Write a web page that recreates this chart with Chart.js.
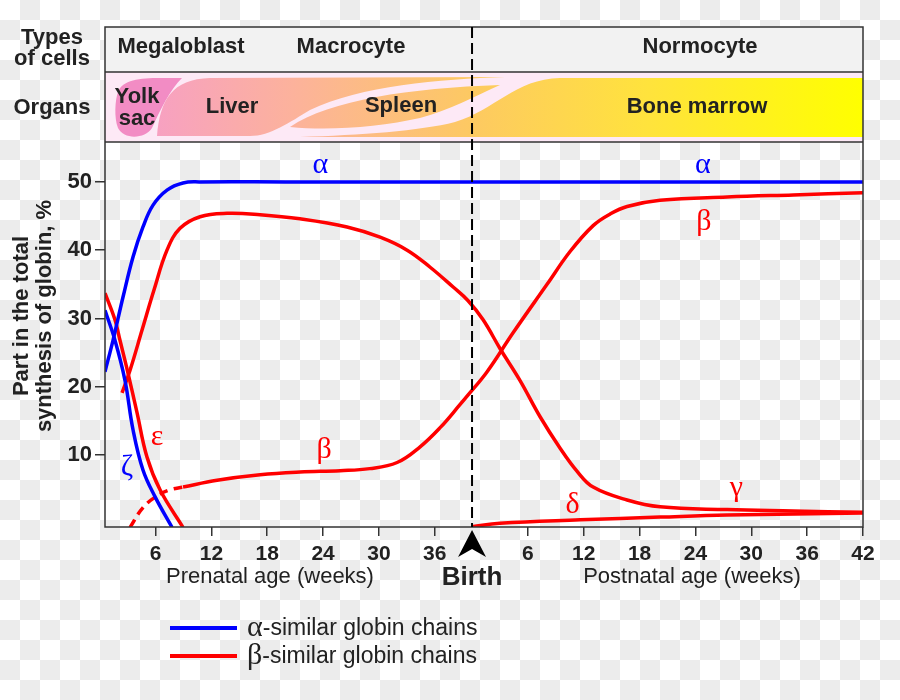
<!DOCTYPE html>
<html>
<head>
<meta charset="utf-8">
<script src="https://cdn.jsdelivr.net/npm/chart.js@4.4.1/dist/chart.umd.min.js"></script>
<style>
  body { margin: 0; background: #fff; }
  #wrap { width: 900px; height: 700px; }
</style>
</head>
<body>
<div id="wrap"><canvas id="globinChart" width="900" height="700"></canvas></div>
<script>
// weeks counted from conception: 0-40 prenatal, 40-82 postnatal (birth at 40)
const birthWeek = 40;
const prenatalTicks = [6, 12, 18, 24, 30, 36];
const postnatalTicks = [6, 12, 18, 24, 30, 36, 42];
const yTicks = [10, 20, 30, 40, 50];

// alpha-similar chains
const alphaWeeks = [0.57, 1.43, 2.5, 3.58, 4.65, 5.73, 7.23, 8.95, 10.78, 20, 40, 60, 82];
const alphaValues = [22.2, 26.8, 33.1, 39.0, 43.4, 46.6, 48.8, 49.85, 50, 50, 50, 50, 50];
const zetaWeeks = [0.57, 1.64, 2.72, 3.58, 4.65, 5.94, 7.77];
const zetaValues = [31.2, 26.8, 20.9, 13.7, 7.8, 3.9, -0.6];

// beta-similar chains
const epsilonWeeks = [0.57, 1.64, 2.18, 3.04, 4.01, 5.08, 6.48, 8.95];
const epsilonValues = [33.7, 29.8, 26.8, 22.0, 16.2, 9.7, 4.9, -0.6];
const gammaWeeks = [2.4, 3.26, 4.55, 5.84, 7.23, 8.63, 10.78, 13.68, 17.23, 21.52, 26.57, 30.12, 33.03, 35.5, 37.97, 39.58, 41.19, 43.0, 45.16, 47.31, 49.46, 51.29, 53.01, 56.66, 60.2, 67.4, 74.51, 82];
const gammaValues = [19.1, 22.4, 28.3, 34.2, 40.0, 43.2, 44.9, 45.4, 45.2, 44.6, 43.4, 41.9, 40.0, 37.5, 34.6, 32.6, 29.8, 25.6, 20.9, 15.6, 11.0, 7.6, 5.3, 3.4, 2.4, 2.0, 1.8, 1.6];
const betaEarlyWeeks = [3.26, 4.65, 6.16, 7.55, 8.95];
const betaEarlyValues = [-0.6, 2.3, 4.0, 4.9, 5.3];
const betaWeeks = [8.95, 12.61, 17.23, 21.52, 25.82, 29.0, 31.95, 34.42, 36.57, 38.72, 39.58, 41.62, 44.41, 48.06, 50.53, 53.01, 54.84, 56.66, 60.2, 67.4, 74.51, 82];
const betaValues = [5.3, 6.3, 7.1, 7.5, 7.7, 8.0, 8.9, 11.2, 14.0, 17.4, 18.8, 22.2, 27.9, 35.0, 39.8, 43.6, 45.3, 46.4, 47.3, 47.8, 48.1, 48.4];
const deltaWeeks = [40, 43.0, 51.61, 60.2, 67.4, 82];
const deltaValues = [-0.5, 0, 0.5, 0.9, 1.2, 1.5];

// greek letter labels next to the curves (week, value)
const curveLabels = [
  { text: 'α', week: 23.7, value: 52.5, color: '#0000ff' },
  { text: 'α', week: 64.8, value: 52.5, color: '#0000ff' },
  { text: 'β', week: 64.9, value: 44.1, color: '#ff0000' },
  { text: 'β', week: 24.1, value: 10.7, color: '#ff0000' },
  { text: 'γ', week: 68.4, value: 5.2, color: '#ff0000' },
  { text: 'δ', week: 50.8, value: 2.7, color: '#ff0000' },
  { text: 'ε', week: 6.16, value: 12.6, color: '#ff0000' },
  { text: 'ζ', week: 2.93, value: 8.2, color: '#0000ff' }
];

const SANS = '"Liberation Sans", Arial, sans-serif';
const SERIF = '"Liberation Serif", "DejaVu Serif", serif';
const INK = '#222';

function toPoints(xs, ys) {
  return xs.map(function(x, i) { return { x: x, y: ys[i] }; });
}

function line(data, color, dash) {
  return {
    data: data,
    borderColor: color,
    borderWidth: 3.5,
    borderDash: dash || [],
    pointRadius: 0,
    fill: false,
    tension: 0.4
  };
}

function text(c, str, x, y, font, align) {
  c.font = font;
  c.textAlign = align || 'center';
  c.textBaseline = 'middle';
  c.fillText(str, x, y);
}

// checker background, bands above the plot, frame, labels, legend
const decorPlugin = {
  id: 'decor',
  beforeDraw(chart) {
    const c = chart.ctx;
    c.save();
    for (let y = 0; y < 700; y += 20) {
      for (let x = 0; x < 900; x += 20) {
        c.fillStyle = ((x / 20 + y / 20) % 2) ? '#ececec' : '#ffffff';
        c.fillRect(x, y, 20, 20);
      }
    }
    c.restore();
  },
  afterDatasetsDraw(chart) {
    const c = chart.ctx;
    const a = chart.chartArea;
    const xs = chart.scales.x, ys = chart.scales.y;
    const L = a.left, R = a.right;
    c.save();

    // types of cells band
    c.fillStyle = '#f2f2f2';
    c.fillRect(L, 27, R - L, 45);
    // organs band
    c.fillStyle = '#fde9f6';
    c.fillRect(L, 72, R - L, 70);

    const grad = c.createLinearGradient(150, 0, R, 0);
    grad.addColorStop(0, '#f7a0c3');
    grad.addColorStop(0.2, '#fcb29c');
    grad.addColorStop(0.45, '#fdc962');
    grad.addColorStop(0.7, '#ffe33c');
    grad.addColorStop(1, '#ffff00');

    // yolk sac
    c.fillStyle = '#f28cc4';
    c.beginPath();
    c.moveTo(118, 92);
    c.bezierCurveTo(122, 80, 140, 78, 160, 78);
    c.lineTo(182, 78);
    c.bezierCurveTo(170, 90, 160, 110, 152, 128);
    c.bezierCurveTo(145, 139, 124, 140, 118, 128);
    c.bezierCurveTo(114, 118, 115, 100, 118, 92);
    c.fill();

    c.fillStyle = grad;
    // liver
    c.beginPath();
    c.moveTo(157, 136);
    c.bezierCurveTo(160, 100, 172, 79, 210, 78);
    c.lineTo(505, 77);
    c.bezierCurveTo(440, 79, 360, 86, 310, 110);
    c.bezierCurveTo(290, 122, 270, 136, 250, 136);
    c.closePath();
    c.fill();
    // spleen
    c.beginPath();
    c.moveTo(290, 127);
    c.bezierCurveTo(330, 100, 410, 88, 500, 85);
    c.bezierCurveTo(475, 96, 450, 110, 420, 118);
    c.bezierCurveTo(380, 127, 330, 131, 290, 127);
    c.closePath();
    c.fill();
    // bone marrow
    c.beginPath();
    c.moveTo(300, 137);
    c.bezierCurveTo(360, 135, 420, 131, 455, 122);
    c.bezierCurveTo(495, 110, 515, 79, 560, 78);
    c.lineTo(R, 78);
    c.lineTo(R, 137);
    c.closePath();
    c.fill();

    // band texts
    c.fillStyle = INK;
    const bold = 'bold 22px ' + SANS;
    text(c, 'Megaloblast', 181, 47, bold);
    text(c, 'Macrocyte', 351, 47, bold);
    text(c, 'Normocyte', 700, 47, bold);
    text(c, 'Yolk', 137, 97, bold);
    text(c, 'sac', 137, 119, bold);
    text(c, 'Liver', 232, 107, bold);
    text(c, 'Spleen', 401, 106, bold);
    text(c, 'Bone marrow', 697, 107, bold);
    text(c, 'Types', 52, 38, bold);
    text(c, 'of cells', 52, 59, bold);
    text(c, 'Organs', 52, 108, bold);

    // band and plot frames
    c.strokeStyle = '#333';
    c.lineWidth = 1.5;
    c.strokeRect(L, 27, R - L, a.bottom - 27);
    c.beginPath();
    c.moveTo(L, 72); c.lineTo(R, 72);
    c.moveTo(L, 142); c.lineTo(R, 142);
    c.stroke();

    // birth line
    const bx = xs.getPixelForValue(birthWeek);
    c.strokeStyle = '#000';
    c.lineWidth = 2;
    c.setLineDash([11, 5]);
    c.beginPath();
    c.moveTo(bx, 27);
    c.lineTo(bx, a.bottom);
    c.stroke();
    c.setLineDash([]);

    // birth arrow
    c.fillStyle = '#000';
    c.beginPath();
    c.moveTo(bx, a.bottom + 3);
    c.lineTo(bx + 14, a.bottom + 30);
    c.lineTo(bx, a.bottom + 22);
    c.lineTo(bx - 14, a.bottom + 30);
    c.closePath();
    c.fill();

    // greek labels on curves
    curveLabels.forEach(function(l) {
      c.fillStyle = l.color;
      text(c, l.text, xs.getPixelForValue(l.week), ys.getPixelForValue(l.value), '30px ' + SERIF);
    });

    // axis titles
    c.fillStyle = INK;
    text(c, 'Prenatal age (weeks)', 270, 577, '22px ' + SANS);
    text(c, 'Postnatal age (weeks)', 692, 577, '22px ' + SANS);
    text(c, 'Birth', bx, 578, 'bold 26px ' + SANS);

    c.save();
    c.translate(33, (a.top + a.bottom) / 2 - 19);
    c.rotate(-Math.PI / 2);
    text(c, 'Part in the total', 0, -11, 'bold 22px ' + SANS);
    text(c, 'synthesis of globin, %', 0, 12, 'bold 22px ' + SANS);
    c.restore();

    // legend
    const legend = [
      { greek: 'α', label: '-similar globin chains', color: '#0000ff', y: 628 },
      { greek: 'β', label: '-similar globin chains', color: '#ff0000', y: 656 }
    ];
    legend.forEach(function(g) {
      c.strokeStyle = g.color;
      c.lineWidth = 4;
      c.beginPath();
      c.moveTo(170, g.y); c.lineTo(237, g.y);
      c.stroke();
      c.fillStyle = INK;
      c.font = '30px ' + SERIF;
      c.textAlign = 'left';
      c.textBaseline = 'middle';
      c.fillText(g.greek, 247, g.y);
      const w = c.measureText(g.greek).width;
      text(c, g.label, 247 + w, g.y + 1, '23px ' + SANS, 'left');
    });

    c.restore();
  }
};

const ctx = document.getElementById('globinChart').getContext('2d');

const globinChart = new Chart(ctx, {
  type: 'line',
  data: {
    datasets: [
      line(toPoints(alphaWeeks, alphaValues), '#0000ff'),
      line(toPoints(zetaWeeks, zetaValues), '#0000ff'),
      line(toPoints(epsilonWeeks, epsilonValues), '#ff0000'),
      line(toPoints(gammaWeeks, gammaValues), '#ff0000'),
      line(toPoints(betaEarlyWeeks, betaEarlyValues), '#ff0000', [9, 6]),
      line(toPoints(betaWeeks, betaValues), '#ff0000'),
      line(toPoints(deltaWeeks, deltaValues), '#ff0000')
    ]
  },
  options: {
    responsive: false,
    animation: false,
    layout: { padding: { top: 143, right: 37, left: 0, bottom: 0 } },
    plugins: {
      legend: { display: false },
      tooltip: { enabled: false }
    },
    scales: {
      x: {
        type: 'linear',
        min: 0.57,
        max: 82,
        afterFit: function(scale) { scale.height = 173; },
        afterBuildTicks: function(scale) {
          const pre = prenatalTicks.map(function(v) { return { value: v }; });
          const post = postnatalTicks.map(function(v) { return { value: v + birthWeek }; });
          scale.ticks = pre.concat(post);
        },
        grid: { drawOnChartArea: false, tickLength: 9, color: '#333', lineWidth: 1.5 },
        border: { display: false },
        ticks: {
          autoSkip: false,
          maxRotation: 0,
          padding: 6,
          color: INK,
          font: { family: SANS, size: 21, weight: 'bold' },
          callback: function(v) { return v <= birthWeek ? v : v - birthWeek; }
        }
      },
      y: {
        min: -0.55,
        max: 55.7,
        afterFit: function(scale) { scale.width = 105; },
        afterBuildTicks: function(scale) {
          scale.ticks = yTicks.map(function(v) { return { value: v }; });
        },
        grid: { drawOnChartArea: false, tickLength: 10, color: '#333', lineWidth: 1.5 },
        border: { display: false },
        ticks: {
          padding: 3,
          color: INK,
          font: { family: SANS, size: 22, weight: 'bold' }
        }
      }
    }
  },
  plugins: [decorPlugin]
});
</script>
</body>
</html>
